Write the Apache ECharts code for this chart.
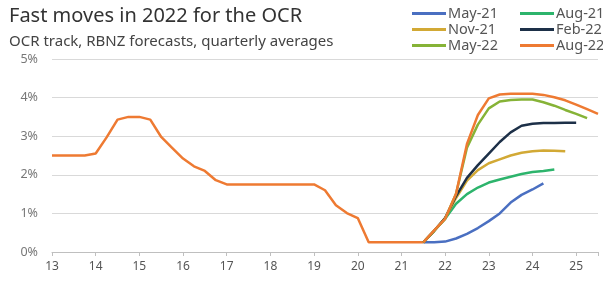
<!DOCTYPE html>
<html>
<head>
<meta charset="utf-8">
<script src="https://cdn.jsdelivr.net/npm/echarts@6/dist/echarts.min.js"></script>
<style>
  html, body { margin: 0; padding: 0; background: #fff; }
  #chart { width: 603px; height: 282px; }
</style>
</head>
<body>
<div id="chart"></div>
<script>
// quarterly averages, x = years since 2000 (Q1 at the whole year)
const ocrStart = 13
const ocrTrack = [
  2.5, 2.5, 2.5, 2.5,
  2.55, 2.97, 3.43, 3.5,
  3.5, 3.43, 2.98, 2.7,
  2.42, 2.22, 2.1, 1.86,
  1.75, 1.75, 1.75, 1.75,
  1.75, 1.75, 1.75, 1.75,
  1.75, 1.6, 1.21, 1.01,
  0.88, 0.25, 0.25, 0.25,
  0.25, 0.25, 0.25
]

const forecastStart = 21.5
const forecastNames = ['May-21', 'Aug-21', 'Nov-21', 'Feb-22', 'May-22', 'Aug-22']
const may21 = [0.25, 0.25, 0.27, 0.35, 0.47, 0.62, 0.8, 1.0, 1.28, 1.48, 1.62, 1.78]
const aug21 = [0.25, 0.55, 0.86, 1.25, 1.5, 1.67, 1.8, 1.88, 1.95, 2.02, 2.07, 2.1, 2.14]
const nov21 = [0.25, 0.55, 0.88, 1.4, 1.85, 2.12, 2.3, 2.4, 2.5, 2.57, 2.61, 2.63, 2.62, 2.61]
const feb22 = [0.25, 0.55, 0.88, 1.45, 1.92, 2.25, 2.55, 2.85, 3.1, 3.27, 3.32, 3.34, 3.34, 3.35, 3.35]
const may22 = [0.25, 0.55, 0.86, 1.51, 2.7, 3.3, 3.72, 3.9, 3.94, 3.95, 3.95, 3.88, 3.79, 3.68, 3.58, 3.47]
const aug22 = [0.25, 0.56, 0.86, 1.51, 2.8, 3.55, 3.98, 4.08, 4.1, 4.1, 4.1, 4.07, 4.01, 3.93, 3.82, 3.7, 3.58]
const forecastValues = [may21, aug21, nov21, feb22, may22, aug22]
const forecastColors = ['#4a6fc1', '#2db46c', '#d2a935', '#1d3048', '#86b337', '#ee7a32']

const yTicks = [0, 1, 2, 3, 4, 5]
const xTicks = [13, 14, 15, 16, 17, 18, 19, 20, 21, 22, 23, 24, 25]
const cutoff = 22.25

const font = '"Noto Sans", "Open Sans", sans-serif'

const toPairs = (start, values) => values.map((v, i) => [start + i * 0.25, v])

const chart = echarts.init(document.getElementById('chart'))

const series = [
  {
    name: 'OCR',
    type: 'line',
    data: toPairs(ocrStart, ocrTrack),
    showSymbol: false,
    lineStyle: { color: '#ee7a32', width: 2.5 },
    itemStyle: { color: '#ee7a32' },
    markLine: {
      silent: true,
      symbol: 'none',
      label: { show: false },
      lineStyle: { color: '#a6a6a6', width: 1.5, type: 'solid' },
      data: [[{ coord: [cutoff, 0] }, { coord: [cutoff, 5.1] }]]
    }
  }
]
forecastNames.forEach((name, i) => {
  series.push({
    name: name,
    type: 'line',
    data: toPairs(forecastStart, forecastValues[i]),
    showSymbol: false,
    lineStyle: { color: forecastColors[i], width: 2.5 },
    itemStyle: { color: forecastColors[i] }
  })
})

const legendBase = {
  orient: 'vertical',
  top: 1,
  icon: 'rect',
  itemWidth: 34,
  itemHeight: 3,
  itemGap: 1,
  selectedMode: false,
  textStyle: { fontFamily: font, fontSize: 14.5, color: '#555', lineHeight: 14, padding: [0, 0, 0, -3] }
}

const option = {
  animation: false,
  title: [
    {
      text: 'Fast moves in 2022 for the OCR',
      left: 4,
      top: 1,
      textStyle: { fontFamily: font, fontSize: 20, fontWeight: 'normal', color: '#333' }
    },
    {
      text: 'OCR track, RBNZ forecasts, quarterly averages',
      left: 4,
      top: 29,
      textStyle: { fontFamily: font, fontSize: 15, fontWeight: 'normal', color: '#444' }
    }
  ],
  legend: [
    Object.assign({}, legendBase, { left: 407, data: ['May-21', 'Nov-21', 'May-22'] }),
    Object.assign({}, legendBase, { left: 515, data: ['Aug-21', 'Feb-22', 'Aug-22'] })
  ],
  grid: { left: 52, right: 5, top: 59, bottom: 30 },
  xAxis: {
    type: 'value',
    min: 13,
    max: 25.5,
    interval: 1,
    axisLine: { show: true, lineStyle: { color: '#bfbfbf' } },
    axisTick: { show: true, length: 4, lineStyle: { color: '#bfbfbf' } },
    splitLine: { show: false },
    axisLabel: {
      fontFamily: font,
      fontSize: 12,
      color: '#555',
      margin: 9,
      formatter: v => (xTicks.indexOf(v) >= 0 ? String(v) : '')
    }
  },
  yAxis: {
    type: 'value',
    min: yTicks[0],
    max: yTicks[yTicks.length - 1],
    interval: 1,
    axisLine: { show: false },
    axisTick: { show: false },
    splitLine: { lineStyle: { color: '#d9d9d9', width: 1 } },
    axisLabel: { fontFamily: font, fontSize: 12.5, color: '#777', margin: 14, formatter: '{value}%' }
  },
  series: series
}

chart.setOption(option)
</script>
</body>
</html>
